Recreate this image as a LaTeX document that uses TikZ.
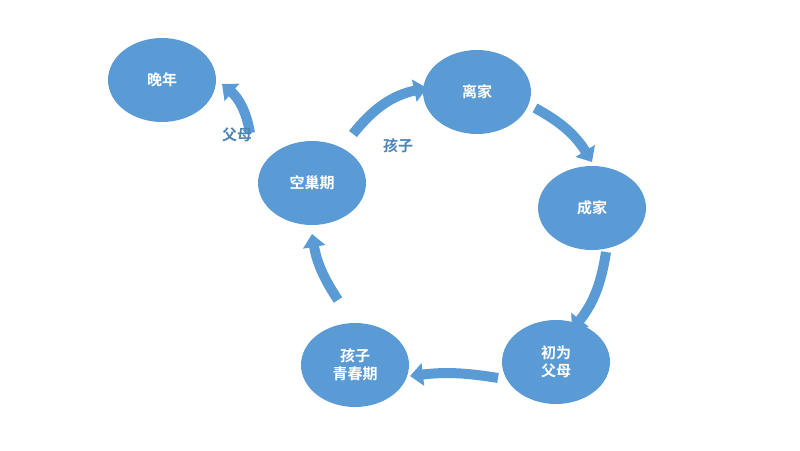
\documentclass[tikz,border=0pt]{standalone}
\usepackage{fontspec}
\setmainfont{Noto Sans CJK SC}[BoldFont={* Bold}]
\usetikzlibrary{arrows.meta,shapes.geometric}
\definecolor{nb}{HTML}{5B9BD5}
\tikzset{
 stage/.style={ellipse,fill=nb,minimum width=108pt,minimum height=84pt,inner sep=0pt,text=white,font=\bfseries\fontsize{15}{18}\selectfont,align=center},
 flow/.style={draw=nb,line width=10pt,-{Triangle[width=22pt,length=13pt]}},
 lbl/.style={text=nb!85!black,font=\bfseries\fontsize{15}{18}\selectfont}
}
\begin{document}
\begin{tikzpicture}[x=1pt,y=-1pt]
\useasboundingbox (0,0) rectangle (800,450);
\node[stage] (wn) at (162,80) {晚年};
\node[stage] (kc) at (312,183) {空巢期};
\node[stage] (lj) at (477,92) {离家};
\node[stage] (cj) at (592,208) {成家};
\node[stage] (cw) at (556,362) {初为\\父母};
\node[stage] (qc) at (355,365) {孩子\\青春期};
\coordinate (a1) at (250,133); \coordinate (b1) at (222,84);
\coordinate (a2) at (353,134); \coordinate (b2) at (427,88);
\coordinate (a3) at (535,108); \coordinate (b3) at (592,162);
\coordinate (a4) at (606,252); \coordinate (b4) at (572,330);
\coordinate (a5) at (498,378); \coordinate (b5) at (410,376);
\coordinate (a6) at (338,300); \coordinate (b6) at (312,234);
\draw[flow] (a1) to[bend right=20] (b1);
\draw[flow] (a2) to[bend left=20] (b2);
\draw[flow] (a3) to[bend left=15] (b3);
\draw[flow] (a4) to[bend left=15] (b4);
\draw[flow] (a5) to[bend right=8] (b5);
\draw[flow] (a6) to[bend left=12] (b6);
\node[lbl] (l1) at (237,135) {父母};
\node[lbl] (l2) at (398,146) {孩子};
\end{tikzpicture}
\end{document}
